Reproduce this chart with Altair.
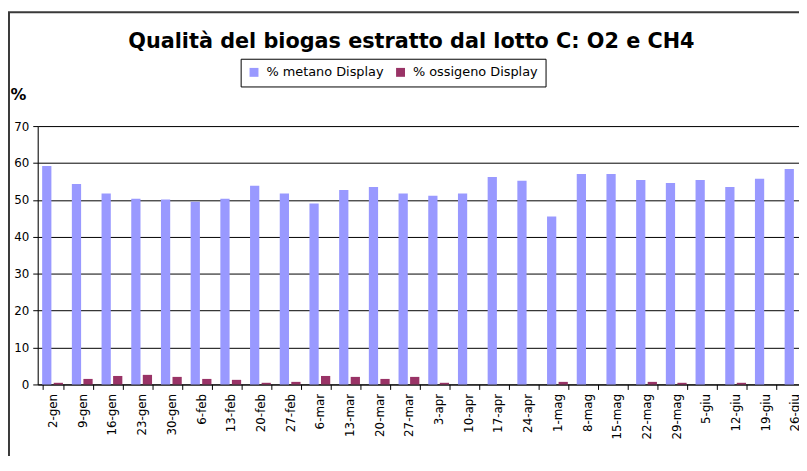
import altair as alt
import pandas as pd

categorie = ["2-gen", "9-gen", "16-gen", "23-gen", "30-gen", "6-feb", "13-feb", "20-feb",
             "27-feb", "6-mar", "13-mar", "20-mar", "27-mar", "3-apr", "10-apr", "17-apr",
             "24-apr", "1-mag", "8-mag", "15-mag", "22-mag", "29-mag", "5-giu", "12-giu",
             "19-giu", "26-giu"]
metano = [59.2, 54.3, 51.7, 50.3, 50.1, 49.5, 50.3, 53.8, 51.7, 49.0, 52.7, 53.5, 51.7,
          51.1, 51.7, 56.2, 55.2, 45.5, 57.0, 57.0, 55.4, 54.6, 55.4, 53.5, 55.7, 58.4]
ossigeno = [0.45, 1.5, 2.3, 2.6, 2.05, 1.5, 1.25, 0.45, 0.7, 2.3, 2.05, 1.5, 2.05,
            0.45, 0, 0, 0, 0.7, 0, 0, 0.7, 0.45, 0, 0.45, 0, 0]
serie = ["% metano Display", "% ossigeno Display"]
colori = ["#9999FF", "#993366"]

rows = []
for c, m, o in zip(categorie, metano, ossigeno):
    rows.append({"data": c, "serie": serie[0], "valore": m})
    rows.append({"data": c, "serie": serie[1], "valore": o})
df = pd.DataFrame(rows)

FONT = "DejaVu Sans"

bars = alt.Chart(df).mark_bar().encode(
    x=alt.X("data:N", sort=categorie,
            scale=alt.Scale(domain=categorie, range=[0, 780], paddingInner=0.3, paddingOuter=0.15),
            axis=alt.Axis(title=None, labelAngle=270, labelFont=FONT, labelFontSize=12,
                          labelColor="black", domainColor="black", tickColor="black",
                          tickSize=5, tickBand="extent", labelPadding=4, grid=False)),
    xOffset=alt.XOffset("serie:N", sort=serie, scale=alt.Scale(paddingInner=0.2)),
    y=alt.Y("valore:Q", scale=alt.Scale(domain=[0, 70], nice=False),
            axis=alt.Axis(title="%", titleAngle=0, titleX=-28, titleY=-27, titleAlign="left",
                          titleBaseline="alphabetic", titleFont=FONT, titleFontSize=16,
                          titleFontWeight="bold", titleColor="black",
                          values=[0, 10, 20, 30, 40, 50, 60, 70], labelFont=FONT,
                          labelFontSize=12, labelColor="black", domainColor="black",
                          tickColor="black", tickSize=5, labelPadding=4,
                          grid=True, gridColor="black", gridOpacity=1)),
    color=alt.Color("serie:N", sort=serie, scale=alt.Scale(domain=serie, range=colori),
                    legend=alt.Legend(title=None, orient="none", legendX=205, legendY=-68,
                                      direction="horizontal", strokeColor="black",
                                      fillColor="white", padding=7, symbolType="square",
                                      symbolSize=81, symbolStrokeWidth=0, labelFont=FONT,
                                      labelFontSize=13, labelColor="black",
                                      columnPadding=10, labelOffset=6)),
)

frame = alt.Chart(alt.Data(values=[{"k": 1}])).mark_rect(
    filled=False, stroke="#3a3a3a", strokeWidth=2
).encode(x=alt.value(-29), x2=alt.value(900), y=alt.value(-115), y2=alt.value(600))

chart = alt.layer(frame, bars).properties(
    width=769, height=261,
    title=alt.TitleParams("Qualità del biogas estratto dal lotto C: O2 e CH4",
                          anchor="middle", font=FONT, fontSize=21, fontWeight="bold",
                          color="black", offset=-41, dx=-7),
    autosize=alt.AutoSizeParams(type="none"),
    padding={"left": 30, "top": 117, "right": 0, "bottom": 70},
).configure_view(stroke=None).configure(background="white")

chart.save("out.html", embed_options={"renderer": "svg", "actions": False})
